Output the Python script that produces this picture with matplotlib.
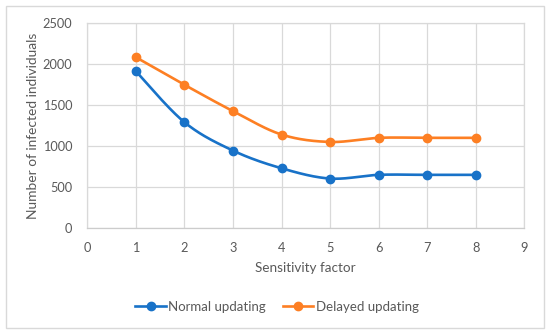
import numpy as np
import matplotlib
matplotlib.use("Agg")
import matplotlib.pyplot as plt
from matplotlib.patches import Rectangle

# ---- data ----
sensitivity = [1, 2, 3, 4, 5, 6, 7, 8]
normal_updating = [1910, 1290, 945, 730, 605, 650, 650, 650]
delayed_updating = [2080, 1745, 1425, 1140, 1050, 1100, 1100, 1100]
series_names = ["Normal updating", "Delayed updating"]
x_ticks = list(range(0, 10))
y_ticks = [0, 500, 1000, 1500, 2000, 2500]

plt.rcParams['font.family'] = ['Lato', 'DejaVu Sans']

TEXT = '#595959'
GRID = '#d9d9d9'
BLUE = '#1872c8'
ORANGE = '#fd7f23'


def smooth(x, y, n=30):
    """Excel-like smoothed line: cubic Bezier with Catmull-Rom control points."""
    x = np.asarray(x, float)
    y = np.asarray(y, float)
    P = np.column_stack([x, y])
    Pe = np.vstack([P[0], P, P[-1]])
    out = []
    t = np.linspace(0, 1, n)[:, None]
    for i in range(len(P) - 1):
        p0, p1, p2, p3 = Pe[i], Pe[i + 1], Pe[i + 2], Pe[i + 3]
        c1 = p1 + (p2 - p0) / 6.0
        c2 = p2 - (p3 - p1) / 6.0
        seg = ((1 - t) ** 3) * p1 + 3 * ((1 - t) ** 2) * t * c1 + 3 * (1 - t) * t ** 2 * c2 + t ** 3 * p2
        out.append(seg if i == 0 else seg[1:])
    s = np.vstack(out)
    return s[:, 0], s[:, 1]


W, H = 550, 335
fig = plt.figure(figsize=(W / 100, H / 100), dpi=100)
ax = fig.add_axes([87.3 / W, 1 - 228.3 / H, (524.3 - 87.3) / W, (228.3 - 22.7) / H])

handles = []
for vals, name, col in [(normal_updating, series_names[0], BLUE),
                        (delayed_updating, series_names[1], ORANGE)]:
    sx, sy = smooth(sensitivity, vals)
    ax.plot(sx, sy, color=col, lw=1.9, solid_capstyle='round', zorder=3)
    ax.plot(sensitivity, vals, 'o', color=col, ms=6, zorder=4)
    h, = ax.plot([], [], color=col, lw=1.9, marker='o', ms=6, label=name)
    handles.append(h)

ax.set_xlim(0, 9)
ax.set_ylim(0, 2500)
ax.set_xticks(x_ticks)
ax.set_yticks(y_ticks)
ax.grid(True, color=GRID, lw=0.9)
ax.set_axisbelow(True)
for s in ax.spines.values():
    s.set_color(GRID)
    s.set_linewidth(0.9)
ax.spines['bottom'].set_color('#cccccc')
ax.tick_params(length=0, colors=TEXT, labelsize=9.2)
ax.tick_params(axis='x', pad=10)
ax.tick_params(axis='y', pad=11)

fig.text(305.8 / W, 1 - 267.7 / H, "Sensitivity factor", ha='center', va='center',
         color=TEXT, fontsize=9.7)
fig.text(33 / W, 1 - 125.5 / H, "Number of infected individuals", ha='center', va='center',
         rotation=90, color=TEXT, fontsize=9.9)

fig.legend(handles=handles, loc='center', bbox_to_anchor=(277 / W, 1 - 306.7 / H),
           ncol=2, frameon=False, fontsize=9.5, labelcolor=TEXT,
           handlelength=2.3, handletextpad=0.2, columnspacing=1.25,
           borderaxespad=0, borderpad=0)

fig.patches.append(Rectangle((5.7 / W, 1 - 328 / H), (544 - 5.7) / W, (328 - 5.7) / H,
                             transform=fig.transFigure, fill=False,
                             edgecolor=GRID, lw=1.0))

fig.savefig("out.png", dpi=100)
